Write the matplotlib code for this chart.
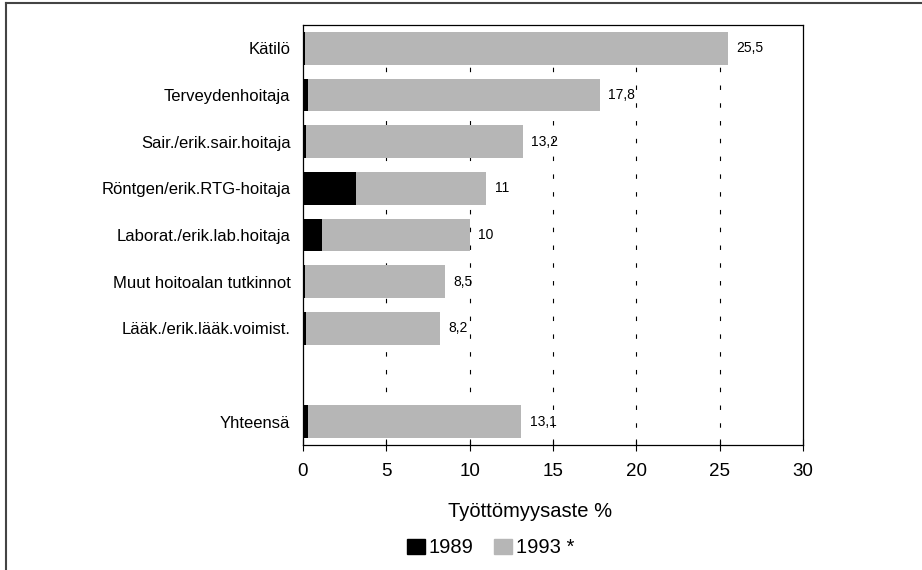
import matplotlib.pyplot as plt
from matplotlib.lines import Line2D
from matplotlib.patches import Patch

plt.rcParams['font.family'] = ['Liberation Sans', 'DejaVu Sans']

categories = ['Kätilö', 'Terveydenhoitaja', 'Sair./erik.sair.hoitaja',
              'Röntgen/erik.RTG-hoitaja', 'Laborat./erik.lab.hoitaja',
              'Muut hoitoalan tutkinnot', 'Lääk./erik.lääk.voimist.', 'Yhteensä']
positions = [0, 1, 2, 3, 4, 5, 6, 8]
v1993 = [25.5, 17.8, 13.2, 11, 10, 8.5, 8.2, 13.1]
v1989 = [0.15, 0.3, 0.2, 3.2, 1.15, 0.1, 0.2, 0.3]
labels1993 = ['25,5', '17,8', '13,2', '11', '10', '8,5', '8,2', '13,1']

fig = plt.figure(figsize=(9.22, 5.70), dpi=100)
ax = fig.add_axes([0.3286, 0.219, 0.5424, 0.737])

grey = '#b6b6b6'
ax.barh(positions, v1993, height=0.7, color=grey, zorder=2)
ax.barh(positions, v1989, height=0.7, color='black', zorder=3)

for p, v, t in zip(positions, v1993, labels1993):
    ax.text(v + 0.5, p, t, va='center', ha='left', fontsize=10, zorder=4)

for x in [5, 10, 15, 20, 25]:
    ax.axvline(x, color='black', lw=0.8, linestyle=(0, (4, 12)), zorder=1)

ax.set_xlim(0, 30)
ax.set_ylim(8.5, -0.5)
ax.set_xticks([0, 5, 10, 15, 20, 25, 30])
ax.set_yticks(positions)
ax.set_yticklabels(categories)
ax.tick_params(axis='y', length=0, pad=9, labelsize=12)
ax.tick_params(axis='x', direction='inout', length=9, width=0.8, labelsize=13.5, pad=8)
for s in ax.spines.values():
    s.set_linewidth(0.9)
ax.set_xlabel('Työttömyysaste %', fontsize=14.5, labelpad=15)
ax.xaxis.set_label_coords(0.455, -0.135)

handles = [Patch(facecolor='black', edgecolor='black'),
           Patch(facecolor=grey, edgecolor=grey)]
fig.legend(handles, ['1989', '1993 *'], loc='center', bbox_to_anchor=(0.532, 0.039),
           ncol=2, frameon=False, fontsize=14.5, handlelength=0.9, handleheight=0.8,
           handletextpad=0.2, columnspacing=1.0)

# outer frame (top and left edge of the scanned page)
fig.add_artist(Line2D([6 / 922, 1], [1 - 3 / 570, 1 - 3 / 570], color='#444444', lw=1.5,
                      transform=fig.transFigure))
fig.add_artist(Line2D([6 / 922, 6 / 922], [0, 1 - 3 / 570], color='#444444', lw=1.5,
                      transform=fig.transFigure))

fig.savefig('out.png', dpi=100)
